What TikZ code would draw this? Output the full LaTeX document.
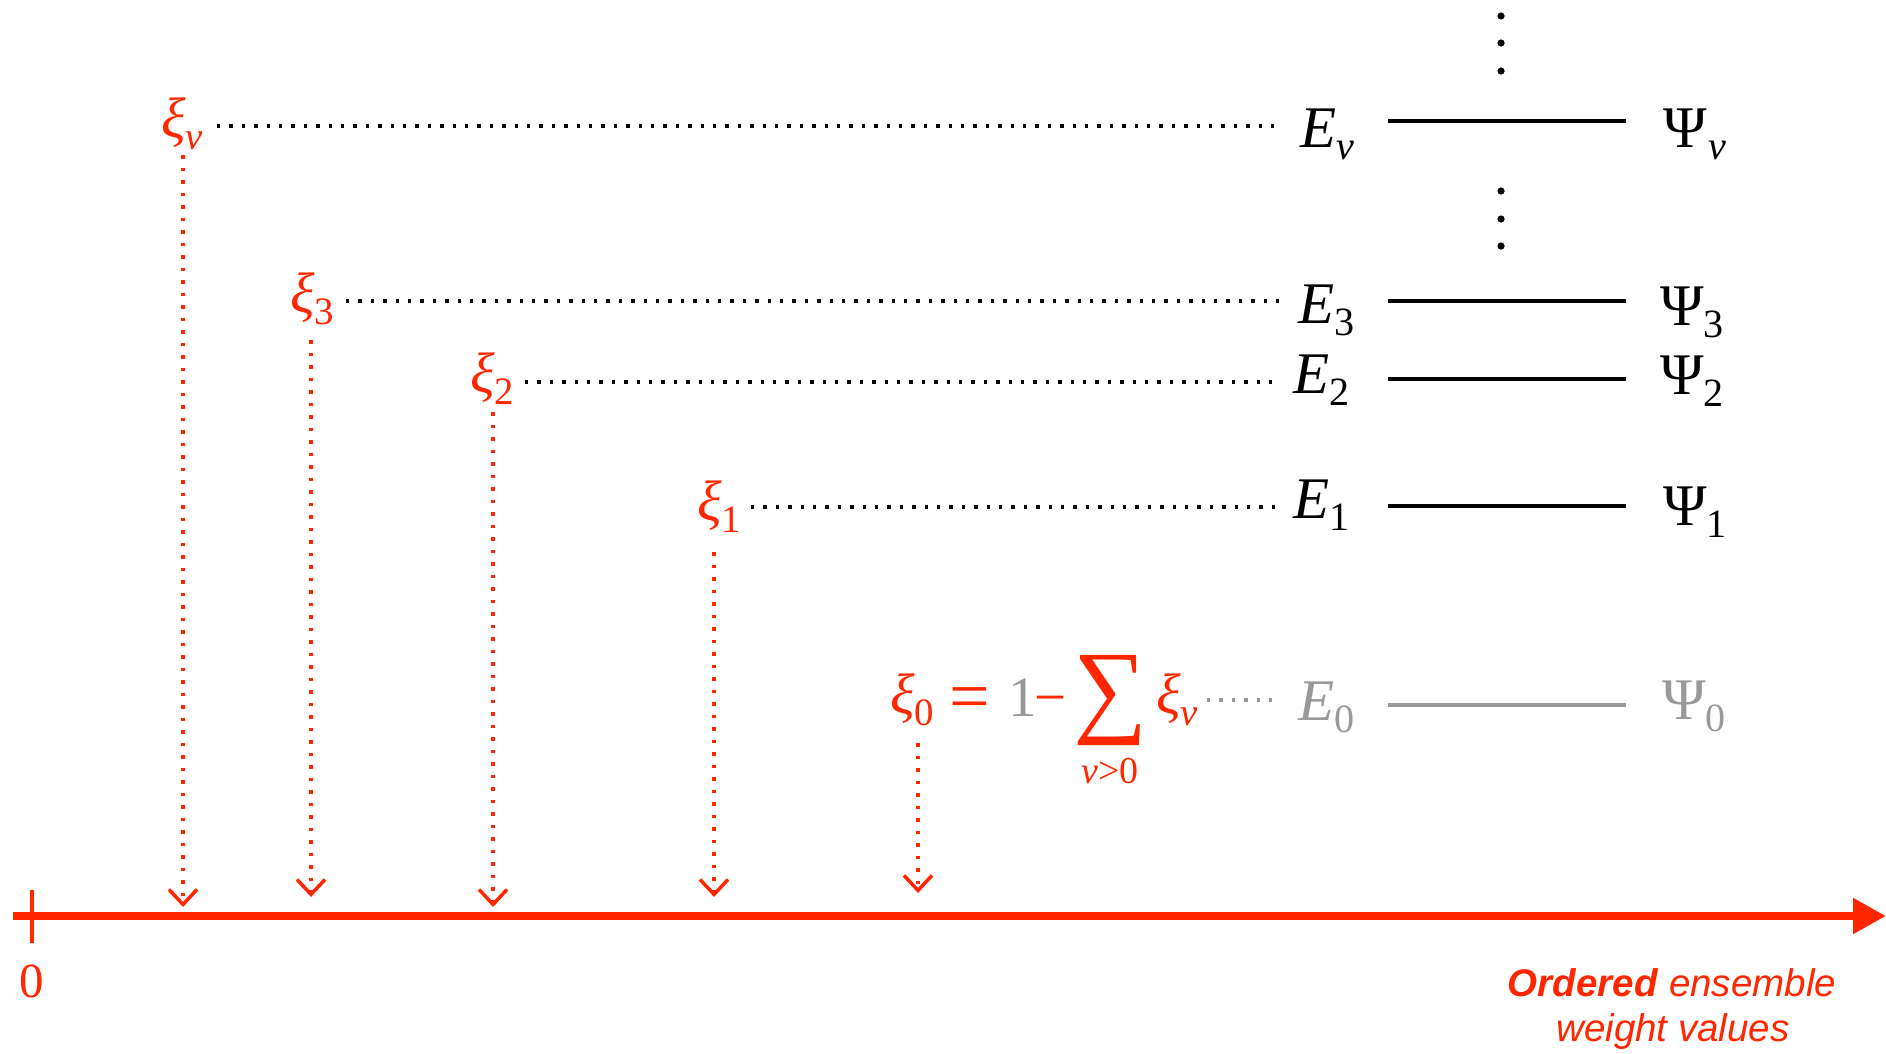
\documentclass[tikz,border=0pt]{standalone}
\usepackage{graphicx}
\usepackage{fontspec}
\setmainfont{Liberation Serif}
\newfontfamily\arialfont{Liberation Sans}
\usetikzlibrary{arrows.meta}
\definecolor{kred}{RGB}{255,38,0}
\definecolor{kgray}{RGB}{153,153,153}
\newcommand\sbsc[1]{\raisebox{-0.22em}{\scalebox{0.68}{#1}}}
\tikzset{
  elab/.style={inner sep=0pt, anchor=base west, font=\fontsize{59}{60}\selectfont},
  xlab/.style={inner sep=0pt, anchor=base west, text=kred, font=\fontsize{57}{58}\selectfont},
  hdot/.style={line width=3.3pt, dash pattern=on 3.3pt off 9.1pt},
  vdot/.style={kred, line width=3.5pt, dash pattern=on 3.5pt off 9pt,
    -{Straight Barb[length=15pt,width=28pt,line width=3.5pt]}},
  level/.style={line width=4.5pt},
}
\begin{document}
\begin{tikzpicture}[x=1pt,y=-1pt]
\useasboundingbox (0,0) rectangle (1886,1053);

% energy labels
\node[elab] (Enu) at (1300,147) {\textit{E}\sbsc{\textit{ν}}};
\node[elab] (E3) at (1298,323) {\textit{E}\sbsc{3}};
\node[elab] (E2) at (1293,393) {\textit{E}\sbsc{2}};
\node[elab] (E1) at (1293,518) {\textit{E}\sbsc{1}};
\node[elab, text=kgray] (E0) at (1298,720) {\textit{E}\sbsc{0}};
% wavefunction labels
\node[elab] (Pnu) at (1663,147) {Ψ\kern2pt\sbsc{\textit{ν}}};
\node[elab] (P3) at (1660,325) {Ψ\sbsc{3}};
\node[elab] (P2) at (1660,394) {Ψ\sbsc{2}};
\node[elab] (P1) at (1663,525) {Ψ\sbsc{1}};
\node[elab, text=kgray] (P0) at (1662,719) {Ψ\sbsc{0}};

% level lines
\coordinate (LnuA) at (1388,121); \coordinate (LnuB) at (1626,121);
\coordinate (L3A) at (1388,301); \coordinate (L3B) at (1626,301);
\coordinate (L2A) at (1388,379); \coordinate (L2B) at (1626,379);
\coordinate (L1A) at (1388,506); \coordinate (L1B) at (1626,506);
\coordinate (L0A) at (1388,705); \coordinate (L0B) at (1626,705);
\draw[level] (LnuA) -- (LnuB);
\draw[level] (L3A) -- (L3B);
\draw[level] (L2A) -- (L2B);
\draw[level] (L1A) -- (L1B);
\draw[level, kgray] (L0A) -- (L0B);

% vertical ellipses
\foreach \yy in {16,43,71,191,219,246} \fill (1501,\yy) circle (3.6pt);

% weight labels
\node[xlab] (xinu) at (161,137) {\textit{ξ}\sbsc{\textit{ν}}};
\node[xlab] (xi3) at (290,312) {\textit{ξ}\sbsc{3}};
\node[xlab] (xi2) at (470,392) {\textit{ξ}\sbsc{2}};
\node[xlab] (xi1) at (697,520) {\textit{ξ}\sbsc{1}};
\node[xlab] (xi0) at (890,713) {\textit{ξ}\sbsc{0}};
\node[xlab, anchor=base, font=\fontsize{72}{72}\selectfont] (eq) at (970,720) {=};
\node[xlab, text=kgray] (one) at (1008,716) {1};
\node[xlab, anchor=base] (minus) at (1051,716) {−};
\node[inner sep=0pt, text=kred, font=\fontsize{104}{104}\selectfont] (sum) at (1111,701) {∑};
\node[inner sep=0pt, anchor=base, text=kred, font=\fontsize{38}{40}\selectfont] (cond) at (1110,783) {\textit{ν}>0};
\node[xlab] (xinu2) at (1156,713) {\textit{ξ}\sbsc{\textit{ν}}};

% horizontal dotted connectors
\coordinate (hnuA) at (217,126); \coordinate (hnuB) at (1275,126);
\coordinate (h3A) at (346,301); \coordinate (h3B) at (1281,301);
\coordinate (h2A) at (525,382); \coordinate (h2B) at (1273,382);
\coordinate (h1A) at (751,507); \coordinate (h1B) at (1275,507);
\coordinate (h0A) at (1207,700); \coordinate (h0B) at (1272,700);
\draw[hdot] (hnuA) -- (hnuB);
\draw[hdot] (h3A) -- (h3B);
\draw[hdot] (h2A) -- (h2B);
\draw[hdot] (h1A) -- (h1B);
\draw[hdot, kgray] (h0A) -- (h0B);

% vertical dotted arrows
\coordinate (vnuA) at (183,155); \coordinate (vnuB) at (183,907);
\coordinate (v3A) at (311,340); \coordinate (v3B) at (311,897);
\coordinate (v2A) at (493,412); \coordinate (v2B) at (493,907);
\coordinate (v1A) at (714,552); \coordinate (v1B) at (714,897);
\coordinate (v0A) at (918,743); \coordinate (v0B) at (918,893);
\draw[vdot] (vnuA) -- (vnuB);
\draw[vdot] (v3A) -- (v3B);
\draw[vdot] (v2A) -- (v2B);
\draw[vdot] (v1A) -- (v1B);
\draw[vdot] (v0A) -- (v0B);

% axis
\coordinate (axL) at (13,916); \coordinate (axR) at (1886,916);
\draw[kred, line width=8pt, -{Triangle[length=33pt,width=34pt]}] (axL) -- (axR);
\coordinate (tkA) at (32,890); \coordinate (tkB) at (32,943);
\draw[kred, line width=4pt] (tkA) -- (tkB);
\node[inner sep=0pt, anchor=base, text=kred, font=\fontsize{49}{50}\selectfont] (zero) at (32,997) {0};

\node[inner sep=0pt, anchor=base, text=kred, font=\arialfont\fontsize{38.5}{40}\selectfont] (lab1) at (1672,996) {\textbf{\textit{Ordered}} \textit{ensemble}};
\node[inner sep=0pt, anchor=base, text=kred, font=\arialfont\fontsize{38.5}{40}\selectfont] (lab2) at (1673,1041) {\textit{weight values}};
\end{tikzpicture}
\end{document}
